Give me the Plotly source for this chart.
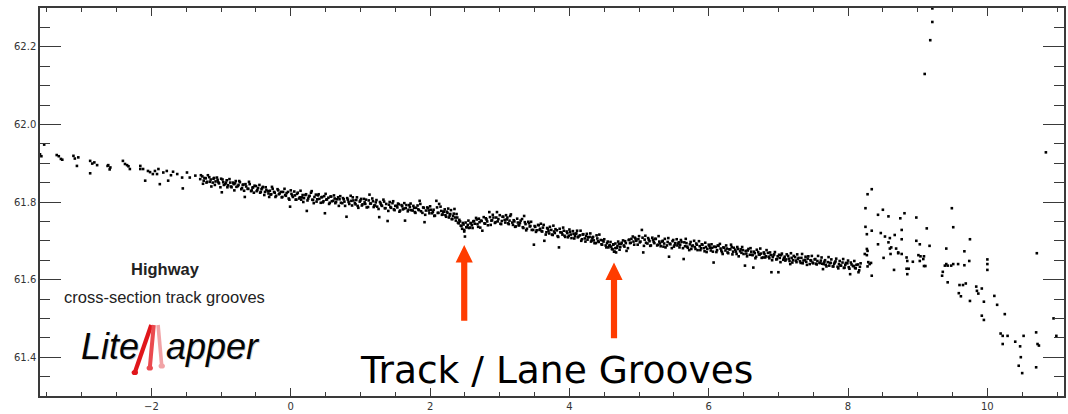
import plotly.graph_objects as go

# ---------------- profile data (distance, elevation) ----------------
# sparse returns at the left end of the scan
west_x = [-3.60, -3.58, -3.54, -3.36, -3.33, -3.30, -3.28, -3.12, -3.10, -3.07, -3.05,
          -2.88, -2.88, -2.85, -2.82, -2.78, -2.63, -2.62, -2.60, -2.59, -2.41, -2.38,
          -2.35, -2.33, -2.31, -2.16, -2.16, -2.12, -2.09, -2.05, -2.02, -1.98, -1.95,
          -1.92, -1.90, -1.88, -1.83, -1.78, -1.76, -1.72, -1.69, -1.63, -1.56, -1.55,
          -1.49, -1.45, -1.37, -1.30]
west_y = [61.923, 61.918, 61.948, 61.921, 61.918, 61.911, 61.909, 61.919, 61.912, 61.893, 61.915,
          61.906, 61.874, 61.899, 61.902, 61.895, 61.893, 61.895, 61.884, 61.889, 61.906, 61.898,
          61.895, 61.892, 61.885, 61.893, 61.885, 61.885, 61.855, 61.880, 61.877, 61.872, 61.880,
          61.872, 61.885, 61.846, 61.876, 61.880, 61.855, 61.869, 61.878, 61.872, 61.863, 61.835,
          61.876, 61.863, 61.868, 61.859]

# road surface, first half (scan line 1)
mid_x = [-1.27, -1.25, -1.22, -1.20, -1.17, -1.15, -1.12, -1.10, -1.08, -1.05, -1.03, -1.00, -0.99, -0.97, -0.94, -0.92, -0.90, -0.87, -0.85, -0.82,
         -0.80, -0.78, -0.75, -0.73, -0.70, -0.68, -0.66, -0.64, -0.61, -0.59, -0.56, -0.54, -0.52, -0.49, -0.47, -0.44, -0.42, -0.40, -0.37, -0.35, -0.32,
         -0.30, -0.28, -0.26, -0.23, -0.21, -0.18, -0.16, -0.13, -0.11, -0.08, -0.06, -0.03, -0.01, 0.01, 0.03, 0.06, 0.08, 0.10, 0.13, 0.15, 0.17, 0.19,
         0.21, 0.23, 0.25, 0.27, 0.30, 0.32, 0.34, 0.37, 0.39, 0.41, 0.44, 0.46, 0.48, 0.49, 0.51, 0.54, 0.56, 0.58, 0.61, 0.63, 0.65, 0.68,
         0.70, 0.72, 0.75, 0.77, 0.80, 0.82, 0.84, 0.87, 0.89, 0.92, 0.94, 0.96, 0.99, 1.01, 1.03, 1.06, 1.08, 1.11, 1.13, 1.15, 1.18, 1.20,
         1.22, 1.24, 1.27, 1.29, 1.31, 1.34, 1.36, 1.39, 1.41, 1.43, 1.46, 1.48, 1.50, 1.53, 1.55, 1.57, 1.60, 1.62, 1.64, 1.66, 1.69,
         1.71, 1.73, 1.76, 1.78, 1.80, 1.83, 1.85, 1.87, 1.90, 1.92, 1.94, 1.97, 1.99, 2.01, 2.04, 2.06, 2.09, 2.11, 2.13, 2.16, 2.18,
         2.20, 2.22, 2.25, 2.27, 2.29, 2.31, 2.33, 2.35, 2.37, 2.39, 2.41, 2.43, 2.45, 2.46, 2.48, 2.49, 2.50, 2.52, 2.54, 2.56, 2.58,
         2.60, 2.62, 2.64, 2.67, 2.69, 2.71, 2.73, 2.75, 2.78, 2.80, 2.82, 2.85, 2.87, 2.89, 2.91, 2.94, 2.96, 2.98, 3.01, 3.03, 3.05, 3.08]
mid_y = [61.866, 61.855, 61.861, 61.852, 61.864, 61.858, 61.850, 61.862, 61.853, 61.857, 61.848, 61.860, 61.825, 61.851, 61.846, 61.856, 61.843, 61.850, 61.838, 61.846,
         61.848, 61.839, 61.844, 61.851, 61.836, 61.845, 61.813, 61.840, 61.834, 61.846, 61.830, 61.838, 61.842, 61.828, 61.836, 61.824, 61.833, 61.839, 61.826, 61.831, 61.822,
         61.829, 61.820, 61.834, 61.824, 61.816, 61.830, 61.822, 61.812, 61.826, 61.818, 61.823, 61.809, 61.788, 61.821, 61.813, 61.817, 61.806, 61.824, 61.812, 61.806, 61.818, 61.810,
         61.818, 61.777, 61.809, 61.816, 61.828, 61.805, 61.813, 61.801, 61.817, 61.808, 61.812, 61.799, 61.815, 61.771, 61.806, 61.811, 61.798, 61.814, 61.803, 61.809, 61.800, 61.812,
         61.807, 61.798, 61.810, 61.801, 61.762, 61.806, 61.795, 61.803, 61.812, 61.797, 61.805, 61.790, 61.801, 61.808, 61.794, 61.799, 61.806, 61.787, 61.819, 61.796, 61.802, 61.791,
         61.799, 61.788, 61.761, 61.796, 61.790, 61.801, 61.784, 61.751, 61.793, 61.787, 61.797, 61.781, 61.790, 61.786, 61.794, 61.778, 61.789, 61.783, 61.752, 61.792, 61.780,
         61.787, 61.779, 61.790, 61.774, 61.785, 61.781, 61.803, 61.776, 61.786, 61.748, 61.778, 61.784, 61.771, 61.780, 61.775, 61.764, 61.803, 61.772, 61.795, 61.777, 61.768,
         61.775, 61.766, 61.772, 61.760, 61.769, 61.756, 61.764, 61.782, 61.752, 61.760, 61.745, 61.750, 61.738, 61.731, 61.742, 61.724, 61.711, 61.735, 61.741, 61.733, 61.745,
         61.740, 61.750, 61.744, 61.755, 61.736, 61.748, 61.752, 61.726, 61.745, 61.758, 61.750, 61.774, 61.741, 61.753, 61.760, 61.748, 61.774, 61.756, 61.744, 61.751, 61.762, 61.747]

# road surface, first half (scan line 2)
mid2_x = [-1.29, -1.26, -1.24, -1.21, -1.19, -1.16, -1.14, -1.11, -1.09, -1.06, -1.04, -1.01, -0.98, -0.96, -0.93, -0.91, -0.88, -0.86, -0.83, -0.81,
          -0.79, -0.76, -0.74, -0.71, -0.69, -0.67, -0.65, -0.62, -0.60, -0.57, -0.55, -0.53, -0.50, -0.48, -0.45, -0.43, -0.41, -0.38, -0.36, -0.33, -0.31,
          -0.29, -0.27, -0.24, -0.22, -0.19, -0.17, -0.14, -0.12, -0.09, -0.07, -0.04, -0.02, 0.00, 0.02, 0.05, 0.07, 0.09, 0.12, 0.14, 0.16, 0.18,
          0.22, 0.24, 0.26, 0.29, 0.31, 0.33, 0.36, 0.38, 0.40, 0.43, 0.45, 0.47, 0.50, 0.52, 0.55, 0.57, 0.59, 0.62, 0.64, 0.66, 0.69,
          0.71, 0.74, 0.76, 0.78, 0.81, 0.83, 0.86, 0.88, 0.90, 0.93, 0.95, 0.97, 1.00, 1.02, 1.05, 1.07, 1.09, 1.12, 1.14, 1.17, 1.19,
          1.21, 1.23, 1.26, 1.28, 1.30, 1.33, 1.35, 1.37, 1.40, 1.42, 1.44, 1.47, 1.49, 1.52, 1.54, 1.56, 1.59, 1.61, 1.63, 1.65, 1.68, 1.70,
          1.72, 1.75, 1.77, 1.79, 1.82, 1.84, 1.86, 1.89, 1.91, 1.93, 1.96, 1.98, 2.00, 2.03, 2.05, 2.07, 2.10, 2.12, 2.15, 2.17, 2.19,
          2.21, 2.23, 2.24, 2.26, 2.28, 2.30, 2.32, 2.34, 2.36, 2.38, 2.40, 2.42, 2.44, 2.47, 2.49, 2.51, 2.53, 2.55, 2.57, 2.59,
          2.61, 2.63, 2.66, 2.68, 2.70, 2.72, 2.74, 2.77, 2.79, 2.81, 2.83, 2.86, 2.88, 2.90, 2.93, 2.95, 2.97, 3.00, 3.02, 3.04, 3.07, 3.09]
mid2_y = [61.869, 61.847, 61.862, 61.850, 61.869, 61.852, 61.840, 61.860, 61.844, 61.863, 61.851, 61.838, 61.858, 61.844, 61.850, 61.838, 61.859, 61.840, 61.850, 61.830,
          61.854, 61.841, 61.854, 61.833, 61.844, 61.829, 61.846, 61.834, 61.852, 61.828, 61.837, 61.824, 61.841, 61.831, 61.844, 61.826, 61.836, 61.818, 61.838, 61.828, 61.813,
          61.819, 61.839, 61.826, 61.813, 61.833, 61.820, 61.826, 61.813, 61.834, 61.816, 61.826, 61.806, 61.830, 61.817, 61.827, 61.806, 61.821, 61.809, 61.829, 61.812, 61.800,
          61.820, 61.804, 61.814, 61.824, 61.806, 61.797, 61.819, 61.807, 61.820, 61.798, 61.813, 61.802, 61.821, 61.807, 61.795, 61.814, 61.802, 61.817, 61.797, 61.807, 61.790,
          61.815, 61.797, 61.807, 61.790, 61.810, 61.800, 61.816, 61.791, 61.804, 61.794, 61.812, 61.785, 61.804, 61.791, 61.808, 61.795, 61.786, 61.804, 61.796, 61.809, 61.787,
          61.791, 61.805, 61.782, 61.800, 61.792, 61.806, 61.784, 61.795, 61.777, 61.800, 61.785, 61.802, 61.779, 61.790, 61.796, 61.775, 61.792, 61.781, 61.797, 61.784, 61.776, 61.792,
          61.796, 61.778, 61.785, 61.772, 61.791, 61.779, 61.795, 61.772, 61.785, 61.767, 61.786, 61.778, 61.789, 61.771, 61.780, 61.765, 61.786, 61.772, 61.788, 61.767, 61.775,
          61.781, 61.762, 61.775, 61.783, 61.765, 61.779, 61.756, 61.770, 61.760, 61.769, 61.747, 61.754, 61.739, 61.746, 61.728, 61.747, 61.735, 61.752, 61.734, 61.746,
          61.733, 61.751, 61.759, 61.743, 61.757, 61.734, 61.751, 61.761, 61.744, 61.755, 61.740, 61.761, 61.752, 61.767, 61.746, 61.760, 61.750, 61.766, 61.743, 61.762, 61.754, 61.766]

# road surface, second half (scan line 1)
east_x = [3.10, 3.12, 3.14, 3.16, 3.19, 3.21, 3.23, 3.26, 3.28, 3.30, 3.33, 3.35, 3.37, 3.39, 3.42, 3.44, 3.46, 3.49, 3.51, 3.53, 3.56, 3.58,
          3.60, 3.62, 3.64, 3.67, 3.69, 3.71, 3.74, 3.76, 3.78, 3.80, 3.83, 3.85, 3.87, 3.90, 3.92, 3.94, 3.97, 3.99, 4.01, 4.03, 4.06, 4.08,
          4.10, 4.12, 4.15, 4.17, 4.19, 4.22, 4.24, 4.26, 4.29, 4.31, 4.33, 4.35, 4.38, 4.40, 4.42, 4.45, 4.47, 4.49, 4.52, 4.54, 4.56, 4.58,
          4.60, 4.62, 4.63, 4.65, 4.66, 4.67, 4.69, 4.71, 4.73, 4.75, 4.78, 4.80, 4.82, 4.85, 4.87, 4.89, 4.92, 4.94, 4.96, 4.99, 5.01, 5.04, 5.06,
          5.08, 5.10, 5.13, 5.15, 5.17, 5.20, 5.22, 5.24, 5.27, 5.29, 5.31, 5.34, 5.36, 5.38, 5.41, 5.43, 5.45, 5.48, 5.50, 5.52, 5.55, 5.57,
          5.59, 5.61, 5.64, 5.66, 5.68, 5.70, 5.73, 5.75, 5.77, 5.80, 5.82, 5.84, 5.87, 5.89, 5.91, 5.94, 5.96, 5.98, 6.01, 6.03, 6.05, 6.07,
          6.10, 6.12, 6.14, 6.17, 6.19, 6.21, 6.24, 6.26, 6.28, 6.31, 6.33, 6.35, 6.38, 6.40, 6.42, 6.45, 6.47, 6.49, 6.52, 6.54, 6.56, 6.59,
          6.61, 6.63, 6.64, 6.66, 6.68, 6.71, 6.73, 6.75, 6.78, 6.80, 6.82, 6.85, 6.87, 6.89, 6.90, 6.92, 6.94, 6.97, 6.99, 7.00, 7.02, 7.04, 7.07,
          7.09, 7.11, 7.14, 7.16, 7.17, 7.19, 7.21, 7.24, 7.26, 7.28, 7.31, 7.33, 7.35, 7.38, 7.40, 7.42, 7.45, 7.47, 7.49, 7.52, 7.54, 7.56, 7.59,
          7.61, 7.63, 7.64, 7.66, 7.68, 7.71, 7.73, 7.75, 7.78, 7.80, 7.82, 7.85, 7.87, 7.89, 7.92, 7.94, 7.96, 7.99, 8.01, 8.03, 8.05, 8.08, 8.10, 8.12, 8.15, 8.17]
east_y = [61.755, 61.745, 61.752, 61.768, 61.741, 61.750, 61.737, 61.747, 61.740, 61.752, 61.735, 61.764, 61.743, 61.731, 61.745, 61.738, 61.728, 61.690, 61.736, 61.727, 61.740, 61.731,
          61.725, 61.734, 61.700, 61.722, 61.731, 61.719, 61.728, 61.715, 61.724, 61.730, 61.712, 61.683, 61.722, 61.716, 61.726, 61.710, 61.720, 61.713, 61.723, 61.707, 61.718, 61.712,
          61.719, 61.709, 61.714, 61.700, 61.716, 61.706, 61.712, 61.703, 61.710, 61.698, 61.708, 61.701, 61.694, 61.706, 61.697, 61.702, 61.690, 61.698, 61.688, 61.694, 61.683, 61.689,
          61.685, 61.678, 61.690, 61.672, 61.681, 61.670, 61.686, 61.692, 61.684, 61.695, 61.688, 61.699, 61.674, 61.702, 61.694, 61.705, 61.698, 61.708, 61.700, 61.704, 61.696, 61.728, 61.670,
          61.703, 61.695, 61.707, 61.699, 61.688, 61.702, 61.694, 61.705, 61.690, 61.698, 61.686, 61.700, 61.693, 61.683, 61.697, 61.659, 61.691, 61.699, 61.685, 61.694, 61.688, 61.696,
          61.690, 61.697, 61.653, 61.686, 61.694, 61.682, 61.691, 61.679, 61.688, 61.684, 61.693, 61.676, 61.686, 61.681, 61.690, 61.673, 61.684, 61.679, 61.687, 61.675, 61.682, 61.644,
          61.684, 61.676, 61.687, 61.680, 61.671, 61.683, 61.675, 61.680, 61.668, 61.678, 61.684, 61.672, 61.677, 61.666, 61.679, 61.673, 61.669, 61.676, 61.636, 61.667, 61.675, 61.664,
          61.672, 61.663, 61.631, 61.668, 61.659, 61.671, 61.664, 61.667, 61.657, 61.666, 61.660, 61.669, 61.655, 61.663, 61.619, 61.658, 61.665, 61.652, 61.660, 61.619, 61.656, 61.663, 61.651,
          61.659, 61.652, 61.661, 61.648, 61.640, 61.656, 61.650, 61.658, 61.645, 61.653, 61.647, 61.656, 61.642, 61.651, 61.646, 61.654, 61.640, 61.649, 61.644, 61.652, 61.641, 61.648, 61.643,
          61.649, 61.641, 61.627, 61.646, 61.638, 61.645, 61.636, 61.643, 61.634, 61.641, 61.647, 61.633, 61.640, 61.636, 61.644, 61.630, 61.638, 61.642, 61.632, 61.614, 61.639, 61.635, 61.630, 61.638, 61.619, 61.633]

# road surface, second half (scan line 2)
east2_x = [3.11, 3.13, 3.15, 3.18, 3.20, 3.22, 3.25, 3.27, 3.29, 3.32, 3.34, 3.36, 3.38, 3.41, 3.43, 3.45, 3.48, 3.50, 3.52, 3.55, 3.57, 3.59,
           3.61, 3.63, 3.66, 3.68, 3.70, 3.72, 3.75, 3.77, 3.79, 3.82, 3.84, 3.86, 3.89, 3.91, 3.93, 3.96, 3.98, 4.00, 4.02, 4.05, 4.07, 4.09,
           4.11, 4.13, 4.16, 4.18, 4.20, 4.23, 4.25, 4.27, 4.30, 4.32, 4.34, 4.36, 4.39, 4.41, 4.43, 4.46, 4.48, 4.50, 4.53, 4.55, 4.57, 4.59,
           4.61, 4.63, 4.64, 4.66, 4.68, 4.70, 4.72, 4.74, 4.77, 4.79, 4.81, 4.84, 4.86, 4.88, 4.91, 4.93, 4.95, 4.98, 5.00, 5.02, 5.05, 5.07,
           5.09, 5.12, 5.14, 5.16, 5.19, 5.21, 5.23, 5.26, 5.28, 5.30, 5.33, 5.35, 5.37, 5.40, 5.42, 5.44, 5.47, 5.49, 5.51, 5.54, 5.56, 5.58,
           5.60, 5.63, 5.65, 5.67, 5.69, 5.72, 5.74, 5.76, 5.79, 5.81, 5.83, 5.86, 5.88, 5.90, 5.93, 5.95, 5.97, 6.00, 6.02, 6.04, 6.06, 6.08,
           6.11, 6.13, 6.16, 6.18, 6.20, 6.22, 6.25, 6.27, 6.29, 6.32, 6.34, 6.36, 6.39, 6.41, 6.43, 6.46, 6.48, 6.50, 6.53, 6.55, 6.57,
           6.60, 6.62, 6.65, 6.67, 6.69, 6.72, 6.74, 6.76, 6.79, 6.81, 6.83, 6.86, 6.88, 6.91, 6.93, 6.95, 6.98, 7.01, 7.03, 7.05, 7.08,
           7.10, 7.12, 7.15, 7.18, 7.20, 7.22, 7.25, 7.27, 7.29, 7.32, 7.34, 7.36, 7.39, 7.41, 7.43, 7.46, 7.48, 7.50, 7.53, 7.55, 7.57, 7.60,
           7.62, 7.65, 7.67, 7.69, 7.72, 7.74, 7.76, 7.79, 7.81, 7.83, 7.86, 7.88, 7.90, 7.93, 7.95, 7.97, 8.00, 8.02, 8.04, 8.07, 8.09, 8.11, 8.14, 8.16, 8.18]
east2_y = [61.760, 61.743, 61.764, 61.747, 61.753, 61.736, 61.757, 61.740, 61.746, 61.756, 61.733, 61.748, 61.727, 61.749, 61.737, 61.749, 61.728, 61.738, 61.723, 61.741, 61.728, 61.744,
           61.724, 61.741, 61.716, 61.733, 61.726, 61.736, 61.716, 61.739, 61.720, 61.727, 61.710, 61.731, 61.721, 61.734, 61.713, 61.724, 61.709, 61.729, 61.716, 61.725, 61.706, 61.718,
           61.726, 61.711, 61.726, 61.704, 61.717, 61.698, 61.718, 61.709, 61.719, 61.701, 61.710, 61.694, 61.714, 61.699, 61.716, 61.691, 61.701, 61.704, 61.683, 61.698, 61.687, 61.697,
           61.679, 61.691, 61.672, 61.693, 61.682, 61.698, 61.677, 61.692, 61.701, 61.685, 61.694, 61.681, 61.703, 61.695, 61.711, 61.690, 61.705, 61.690, 61.712, 61.698, 61.708, 61.687,
           61.713, 61.693, 61.703, 61.687, 61.708, 61.697, 61.705, 61.688, 61.712, 61.693, 61.698, 61.685, 61.705, 61.688, 61.707, 61.693, 61.681, 61.702, 61.689, 61.704, 61.693, 61.683,
           61.702, 61.681, 61.696, 61.705, 61.685, 61.676, 61.697, 61.686, 61.700, 61.679, 61.690, 61.699, 61.676, 61.691, 61.681, 61.695, 61.671, 61.690, 61.682, 61.691, 61.672, 61.685,
           61.671, 61.688, 61.692, 61.675, 61.666, 61.682, 61.688, 61.670, 61.678, 61.690, 61.665, 61.682, 61.672, 61.684, 61.660, 61.678, 61.684, 61.666, 61.674, 61.660, 61.679,
           61.681, 61.664, 61.672, 61.655, 61.677, 61.665, 61.680, 61.656, 61.670, 61.657, 61.676, 61.659, 61.670, 61.650, 61.663, 61.671, 61.653, 61.664, 61.645, 61.667, 61.655,
           61.649, 61.665, 61.654, 61.668, 61.644, 61.661, 61.649, 61.665, 61.656, 61.643, 61.666, 61.649, 61.659, 61.638, 61.660, 61.650, 61.661, 61.642, 61.653, 61.639, 61.661, 61.643,
           61.657, 61.640, 61.650, 61.634, 61.658, 61.643, 61.652, 61.634, 61.644, 61.654, 61.629, 61.648, 61.636, 61.653, 61.631, 61.643, 61.649, 61.628, 61.644, 61.635, 61.648, 61.629, 61.639, 61.624, 61.642]

# verge / roadside returns beyond the pavement edge
verge_x = [8.24, 8.28, 8.29, 8.31, 8.33, 8.28, 8.34, 8.34, 8.28, 8.25, 8.25, 8.34, 8.27, 8.27, 8.27, 8.43, 8.50, 8.58,
           8.75, 8.81, 8.98, 8.47, 8.53, 8.60, 8.67, 8.77, 8.77, 8.43, 8.58, 8.62, 8.69, 8.72, 8.77, 8.51, 8.60, 8.61,
           8.72, 8.84, 8.66, 8.84, 8.87, 8.85, 8.85, 8.93, 8.98, 9.03, 9.01, 9.03, 9.04, 9.08, 9.09, 9.09, 9.11, 9.13,
           9.17, 9.10, 9.18, 9.21, 9.21, 9.49, 9.51, 9.41, 9.39, 9.43, 9.36, 9.35, 9.41, 9.48, 9.51, 9.58, 9.67, 9.67,
           9.74, 9.75, 9.43, 9.60, 9.65, 9.69, 9.59, 9.62, 9.75, 9.84, 9.85, 9.92, 9.87, 9.95, 10.00, 10.00, 10.00,
           9.92, 9.95, 10.10, 10.14, 10.25, 10.19, 10.22, 10.29, 10.22, 10.40, 10.47, 10.52, 10.48, 10.45, 10.50,
           10.70, 10.72, 10.74, 10.70, 10.71, 10.84, 10.95, 10.99]
verge_y = [61.666, 61.674, 61.645, 61.640, 61.643, 61.634, 61.610, 61.833, 61.820, 61.784, 61.736, 61.726, 61.717, 61.679, 61.663, 61.767, 61.780, 61.763,
           61.758, 61.771, 61.760, 61.720, 61.711, 61.707, 61.715, 61.728, 61.704, 61.691, 61.696, 61.683, 61.680, 61.670, 61.666, 61.656, 61.680, 61.666,
           61.668, 61.657, 61.625, 61.628, 61.628, 61.614, 61.648, 61.646, 61.700, 61.691, 61.663, 61.648, 61.660, 61.653, 61.660, 61.635, 61.635, 61.732,
           61.687, 62.130, 62.217, 62.264, 62.299, 61.784, 61.735, 61.680, 61.636, 61.636, 61.620, 61.610, 61.640, 61.636, 61.640, 61.640, 61.673, 61.637,
           61.648, 61.704, 61.593, 61.586, 61.586, 61.590, 61.565, 61.557, 61.545, 61.582, 61.571, 61.577, 61.564, 61.543, 61.652, 61.640, 61.625,
           61.507, 61.496, 61.558, 61.535, 61.511, 61.461, 61.455, 61.455, 61.434, 61.440, 61.428, 61.455, 61.400, 61.378, 61.359,
           61.464, 61.434, 61.430, 61.374, 61.668, 61.928, 61.500, 61.455]

# groove markers: position, arrow tip and arrow tail elevations
groove_x = [2.49, 4.64]
groove_tip = [61.689, 61.644]
groove_tail = [61.494, 61.449]

X_RANGE = [-3.6, 11.1]
Y_RANGE = [61.3, 62.3]
W, H = 1068, 414
M_L, M_R, M_T, M_B = 40, 2, 8, 18
PW, PH = W - M_L - M_R, H - M_T - M_B


def px(xp):
    """horizontal pixel -> paper fraction"""
    return (xp - M_L) / PW


def py(yp):
    """vertical pixel -> paper fraction"""
    return (H - M_B - yp) / PH


fig = go.Figure()
for xs, ys in [(west_x, west_y), (mid_x, mid_y), (mid2_x, mid2_y),
               (east_x, east_y), (east2_x, east2_y), (verge_x, verge_y)]:
    fig.add_trace(go.Scatter(
        x=xs, y=ys, mode="markers",
        marker=dict(symbol="square", size=2.6, color="black", line=dict(width=0)),
        hoverinfo="skip", showlegend=False))

# upward arrows marking the grooves (head / shaft widths in pixels)
x_per_px = (X_RANGE[1] - X_RANGE[0]) / PW
y_per_px = (Y_RANGE[1] - Y_RANGE[0]) / PH
head_w, head_h, shaft_w = 8.6 * x_per_px, 17.5 * y_per_px, 3.1 * x_per_px
for gx, tip, tail in zip(groove_x, groove_tip, groove_tail):
    base = tip - head_h
    path = (f"M {gx - shaft_w} {tail} L {gx - shaft_w} {base} L {gx - head_w} {base} "
            f"L {gx} {tip} L {gx + head_w} {base} L {gx + shaft_w} {base} L {gx + shaft_w} {tail} Z")
    fig.add_shape(type="path", path=path, xref="x", yref="y",
                  fillcolor="#ff3c00", line=dict(width=0), layer="above")

# logo strokes (red "M")
strokes = [((135.0, 372.5), (151.5, 325.0), "#e0161b", 4.2),
           ((150.0, 368.0), (154.0, 325.0), "#ea4a4f", 4.0),
           ((162.0, 366.0), (158.3, 325.0), "#f1a3a6", 3.6)]
for (x0, y0), (x1, y1), col, lw in strokes:
    fig.add_shape(type="line", xref="paper", yref="paper",
                  x0=px(x0), y0=py(y0), x1=px(x1), y1=py(y1),
                  line=dict(color=col, width=lw))
    r = 3.2
    fig.add_shape(type="circle", xref="paper", yref="paper",
                  x0=px(x0 - r), x1=px(x0 + r), y0=py(y0 + r * 0.8), y1=py(y0 - r * 0.8),
                  fillcolor=col, line=dict(width=0))

ann = []
ann.append(dict(text="<b>Highway</b>", x=px(165.5), y=py(269), xref="paper", yref="paper",
                showarrow=False, xanchor="center", yanchor="middle",
                font=dict(family="Liberation Sans, Arial", size=16.5, color="#222")))
ann.append(dict(text="cross-section track grooves", x=px(165), y=py(297), xref="paper", yref="paper",
                showarrow=False, xanchor="center", yanchor="middle",
                font=dict(family="Liberation Sans, Arial", size=16.5, color="#222")))
for dx, dy, col in [(1.5, 1.5, "rgba(0,0,0,0.18)"), (0, 0, "#050505")]:
    ann.append(dict(text="<i>Lite</i>", x=px(141 + dx), y=py(346 + dy), xref="paper", yref="paper",
                    showarrow=False, xanchor="right", yanchor="middle",
                    font=dict(family="Liberation Sans", size=36, color=col)))
    ann.append(dict(text="<i>apper</i>", x=px(164 + dx), y=py(346 + dy), xref="paper", yref="paper",
                    showarrow=False, xanchor="left", yanchor="middle",
                    font=dict(family="Liberation Sans", size=36, color=col)))
ann.append(dict(text="Track / Lane Grooves", x=px(557.5), y=py(370), xref="paper", yref="paper",
                showarrow=False, xanchor="center", yanchor="middle",
                font=dict(family="DejaVu Sans", size=37.6, color="black")))

axis_common = dict(
    showline=True, linecolor="#3a3a3a", linewidth=1.5, mirror="allticks",
    ticks="inside", tickcolor="#3a3a3a", tickwidth=1.3,
    showgrid=False, zeroline=False,
    tickfont=dict(family="DejaVu Sans", size=10, color="#333"),
)

fig.update_layout(
    width=W, height=H,
    margin=dict(l=M_L, r=M_R, t=M_T, b=M_B),
    paper_bgcolor="white", plot_bgcolor="white",
    annotations=ann,
    xaxis=dict(range=X_RANGE, dtick=2, ticklen=8,
               minor=dict(dtick=0.5, ticklen=4, ticks="inside", tickcolor="#3a3a3a", tickwidth=1.2),
               **axis_common),
    yaxis=dict(range=Y_RANGE, dtick=0.2, ticklen=21, tickformat=".1f",
               minor=dict(dtick=0.05, ticklen=10, ticks="inside", tickcolor="#3a3a3a", tickwidth=1.2),
               **axis_common),
)

fig.write_html("out.html")
